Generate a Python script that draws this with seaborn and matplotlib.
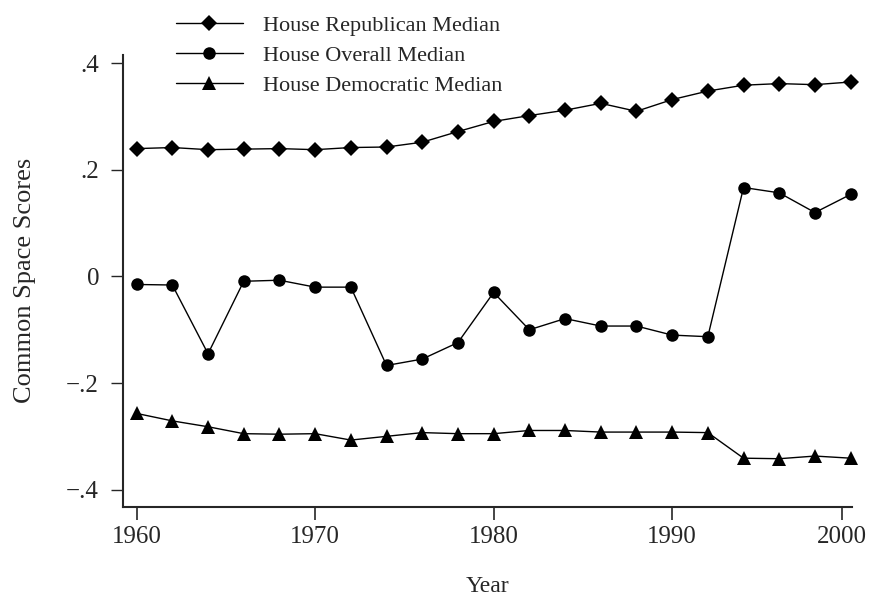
import pandas as pd
import matplotlib
matplotlib.use("Agg")
import matplotlib.pyplot as plt
import seaborn as sns

sns.set_style("ticks")
plt.rcParams["font.family"] = ["Liberation Serif", "DejaVu Serif"]

# === data ===
years = [1960, 1962, 1964, 1966, 1968, 1970, 1972, 1974, 1976, 1978, 1980,
         1982, 1984, 1986, 1988, 1990, 1992, 1994, 1996, 1998, 2000]
rep_median = [0.240, 0.242, 0.238, 0.239, 0.240, 0.238, 0.242, 0.243, 0.252, 0.272, 0.291,
              0.302, 0.312, 0.325, 0.310, 0.332, 0.348, 0.359, 0.362, 0.360, 0.365]
overall_median = [-0.015, -0.016, -0.145, -0.009, -0.007, -0.020, -0.020, -0.167, -0.155, -0.124, -0.030,
                  -0.100, -0.079, -0.093, -0.093, -0.110, -0.113, 0.167, 0.157, 0.120, 0.154]
dem_median = [-0.257, -0.271, -0.282, -0.295, -0.296, -0.295, -0.307, -0.300, -0.293, -0.295, -0.295,
              -0.289, -0.289, -0.292, -0.292, -0.292, -0.293, -0.341, -0.342, -0.337, -0.341]

series_names = ["House Republican Median", "House Overall Median", "House Democratic Median"]
y_ticks = [-0.4, -0.2, 0, 0.2, 0.4]
y_tick_labels = ["\u2212.4", "\u2212.2", "0", ".2", ".4"]
x_ticks = [1960, 1970, 1980, 1990, 1999.5]
x_tick_labels = ["1960", "1970", "1980", "1990", "2000"]

# === long table for seaborn ===
df = pd.concat([
    pd.DataFrame({"Year": years, "Score": vals, "Series": name})
    for name, vals in zip(series_names, [rep_median, overall_median, dem_median])
])

fig = plt.figure(figsize=(8.69, 5.97), dpi=100)
ax = fig.add_axes([0.1412, 0.1513, 0.8389, 0.7566])

sns.lineplot(
    data=df, x="Year", y="Score", hue="Series", style="Series",
    hue_order=series_names, style_order=series_names,
    palette=["black"] * 3,
    markers={series_names[0]: "D", series_names[1]: "o", series_names[2]: "^"},
    dashes=False, markersize=9, markeredgewidth=0, linewidth=1.0,
    clip_on=False, ax=ax,
)

# marker sizes differ a bit per symbol in the original
marker_sizes = {"D": 8.3, "o": 9, "^": 10.5}
for line in ax.lines:
    m = line.get_marker()
    if m in marker_sizes:
        line.set_markersize(marker_sizes[m])

ax.set_xlim(1959.22, 2000.06)
ax.set_ylim(-0.432, 0.4157)
ax.set_xticks(x_ticks)
ax.set_xticklabels(x_tick_labels)
ax.set_yticks(y_ticks)
ax.set_yticklabels(y_tick_labels)
ax.tick_params(axis="x", length=9, width=1.2, pad=5, labelsize=18)
ax.tick_params(axis="y", length=9, width=1.0, pad=8, labelsize=18)

sns.despine(ax=ax)
for side in ["left", "bottom"]:
    ax.spines[side].set_linewidth(1.5)

ax.set_xlabel("Year", fontsize=17, labelpad=20)
ax.set_ylabel("Common Space Scores", fontsize=19, labelpad=22)

handles, labels = ax.get_legend_handles_labels()
for h in handles:
    m = h.get_marker()
    if m in marker_sizes:
        h.set_markersize(marker_sizes[m])
ax.legend(
    handles, labels, loc="upper left", bbox_to_anchor=(176 / 869, 1 - 15 / 597),
    bbox_transform=fig.transFigure, frameon=False, fontsize=16,
    handlelength=3.0, handletextpad=0.9, labelspacing=0.44,
    borderpad=0, borderaxespad=0,
)

fig.savefig("out.png", dpi=100)
